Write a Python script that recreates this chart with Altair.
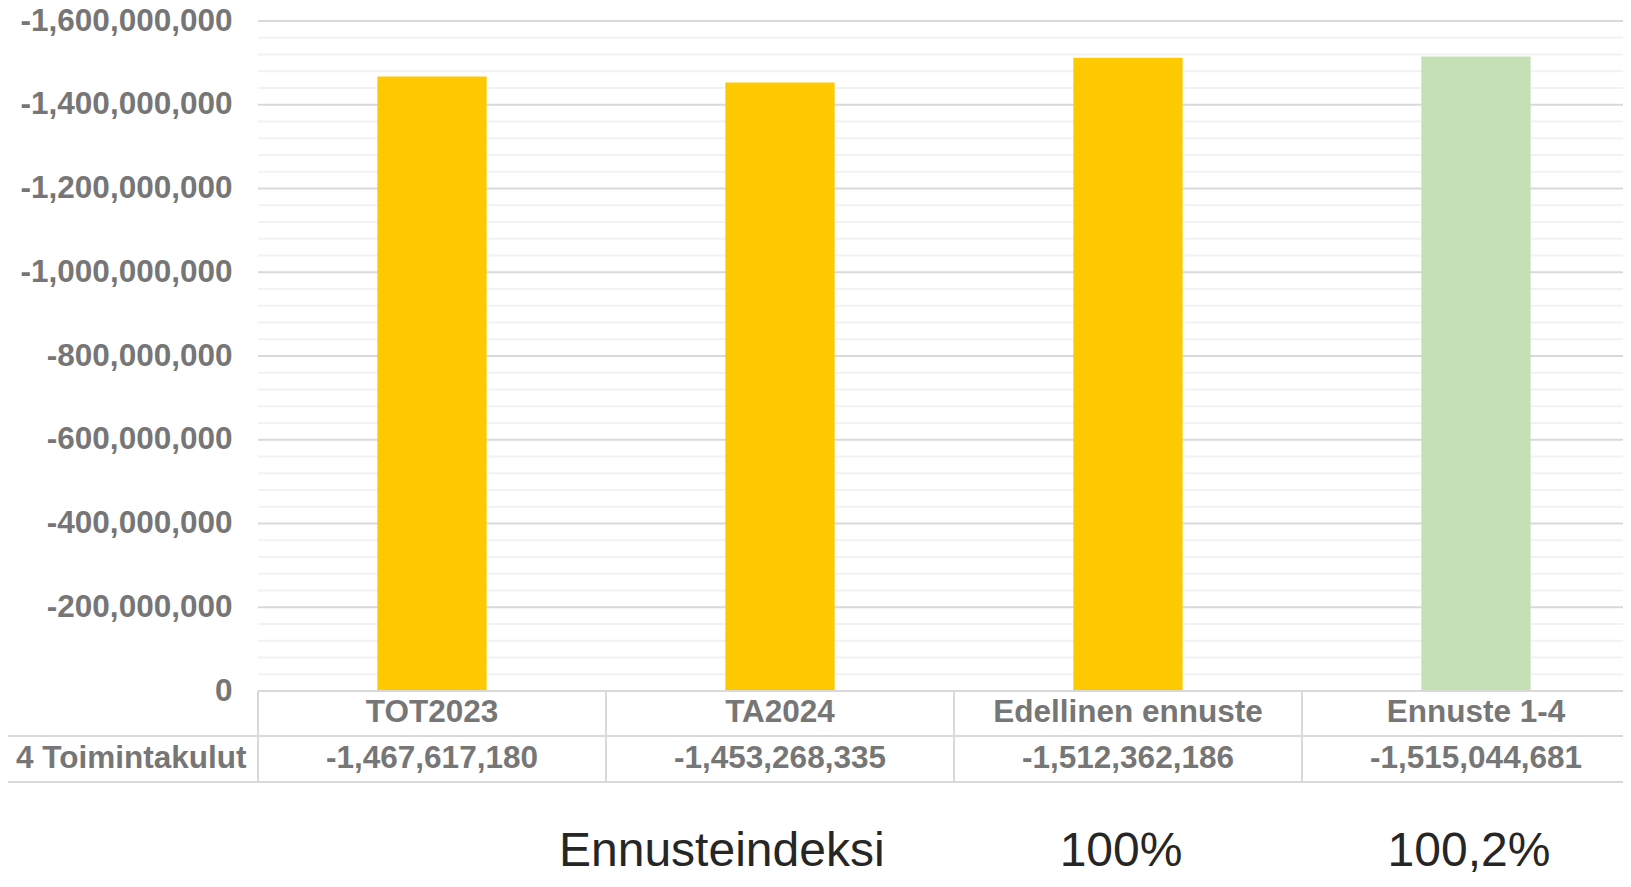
import altair as alt
import pandas as pd

# ---- data ----
categories = ["TOT2023", "TA2024", "Edellinen ennuste", "Ennuste 1-4"]
values = [-1467617180, -1453268335, -1512362186, -1515044681]
index_labels = ["", "", "100%", "100,2%"]
row_label = "4 Toimintakulut"
index_title = "Ennusteindeksi"
major_ticks = [-1600000000, -1400000000, -1200000000, -1000000000,
               -800000000, -600000000, -400000000, -200000000, 0]
minor_ticks = [v for v in range(-1600000000, 0, 40000000) if v % 200000000 != 0]
bar_colors = ["#FFC900", "#FFC900", "#FFC900", "#C5E0B4"]

# ---- layout constants (pixels, plot-relative) ----
W, H = 1365, 670
X_RANGE = 1392
STEP = X_RANGE / 4
GRAY = "#767676"
LINE = "#d9d9d9"
FONT = "Liberation Sans"

df = pd.DataFrame({
    "category": categories,
    "value": values,
    "value_label": [f"{v:,}" for v in values],
    "pct": index_labels,
})

xscale = alt.Scale(domain=categories, range=[0, X_RANGE], paddingInner=0.686, paddingOuter=0.343)
yscale = alt.Scale(domain=[-1600000000, 0], reverse=True, nice=False)

minor = alt.Chart(pd.DataFrame({"v": minor_ticks})).mark_rule(
    color="#f2f2f2", strokeWidth=2
).encode(y=alt.Y("v:Q", scale=yscale, axis=None))

major = alt.Chart(pd.DataFrame({"v": major_ticks})).mark_rule(
    color=LINE, strokeWidth=2
).encode(y=alt.Y("v:Q", scale=yscale, axis=None))

base = alt.Chart(df)

bars = base.mark_bar().encode(
    x=alt.X("category:N", scale=xscale, axis=None, sort=categories),
    y=alt.Y("value:Q", scale=yscale, axis=alt.Axis(
        values=major_ticks, grid=False, domain=False, ticks=False, tickSize=0,
        labelFont=FONT, labelFontWeight="bold", labelFontSize=31.5,
        labelColor=GRAY, labelPadding=26, labelLimit=0, title=None,
        labelExpr="replace(format(datum.value, ',d'), '\u2212', '-')")),
    color=alt.Color("category:N", scale=alt.Scale(domain=categories, range=bar_colors), legend=None),
)

cat_text = base.mark_text(
    font=FONT, fontWeight="bold", fontSize=31.5, color=GRAY, align="center", baseline="middle"
).encode(
    x=alt.X("category:N", scale=xscale, axis=None, sort=categories),
    y=alt.value(692), text="category:N")

val_text = base.mark_text(
    font=FONT, fontWeight="bold", fontSize=31.5, color=GRAY, align="center", baseline="middle"
).encode(
    x=alt.X("category:N", scale=xscale, axis=None, sort=categories),
    y=alt.value(738), text="value_label:N")

pct_text = base.mark_text(
    font=FONT, fontSize=48, color="#262626", align="center", baseline="alphabetic", dx=-7
).encode(
    x=alt.X("category:N", scale=xscale, axis=None, sort=categories),
    y=alt.value(845), text="pct:N")

row_text = alt.Chart(pd.DataFrame({"t": [row_label]})).mark_text(
    font=FONT, fontWeight="bold", fontSize=31.5, color=GRAY, align="left", baseline="middle"
).encode(x=alt.value(-242), y=alt.value(738), text="t:N")

idx_text = alt.Chart(pd.DataFrame({"t": [index_title]})).mark_text(
    font=FONT, fontSize=48, color="#262626", align="left", baseline="alphabetic"
).encode(x=alt.value(301), y=alt.value(845), text="t:N")

# table borders
lines = pd.DataFrame({
    "x":  [0, -251, -251, 0, STEP, 2 * STEP, 3 * STEP, -251],
    "x2": [1400, 1400, 1400, 0, STEP, 2 * STEP, 3 * STEP, -251],
    "y":  [670, 715, 761, 670, 670, 670, 670, 715],
    "y2": [670, 715, 761, 761, 761, 761, 761, 761],
})
table = alt.Chart(lines).mark_rule(color=LINE, strokeWidth=2).encode(
    x=alt.X("x:Q", scale=None), x2="x2:Q",
    y=alt.Y("y:Q", scale=None), y2="y2:Q")

chart = alt.layer(
    minor, major, bars, cat_text, val_text, pct_text, row_text, idx_text, table
).resolve_scale(x="independent", y="independent").properties(
    width=W, height=H,
    autosize=alt.AutoSizeParams(type="none"),
    padding={"left": 250, "top": 13, "right": 0, "bottom": 182},
    background="white",
).configure_view(stroke=None)

chart.save("out.html", embed_options={"renderer": "svg", "actions": False})
